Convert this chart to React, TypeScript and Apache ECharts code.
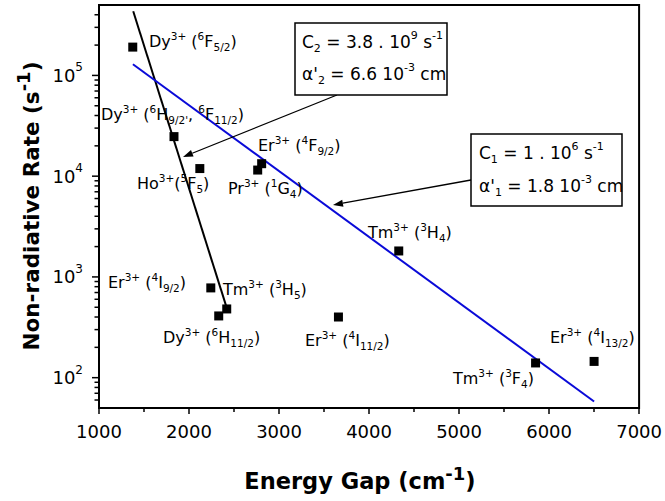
import React, { useEffect, useRef } from 'react';
import * as echarts from 'echarts';

// ---- data ----
const energyGap = [1375, 1833, 2120, 2763, 2807, 4330, 2242, 2330, 2419, 3660, 5850, 6500];
const rate = [1.91e5, 2.47e4, 1.19e4, 1.15e4, 1.33e4, 1.81e3, 778, 410, 481, 400, 140, 145];

const blackFitX = [1380, 2420];
const blackFitY = [4.33e5, 490];
const blueFitX = [1377, 6500];
const blueFitY = [1.29e5, 58];

const xTickMin = 1000;
const xTickMax = 7000;
const xTickStep = 1000;
const yMin = 50;
const yMax = 5e5;
const yMajorTicks = [100, 1000, 10000, 100000];
const yMinorTicks = [
  60, 70, 80, 90,
  200, 300, 400, 500, 600, 700, 800, 900,
  2000, 3000, 4000, 5000, 6000, 7000, 8000, 9000,
  20000, 30000, 40000, 50000, 60000, 70000, 80000, 90000,
  200000, 300000, 400000,
];

const pointLabels = [
  'Dy{sup|3+} ({sup|6}F{sub|5/2})',
  "Dy{sup|3+} ({sup|6}H{sub|9/2'}, {sup|6}F{sub|11/2})",
  'Ho{sup|3+}({sup|5}F{sub|5})',
  'Pr{sup|3+} ({sup|1}G{sub|4})',
  'Er{sup|3+} ({sup|4}F{sub|9/2})',
  'Tm{sup|3+} ({sup|3}H{sub|4})',
  'Tm{sup|3+} ({sup|3}H{sub|5})',
  'Dy{sup|3+} ({sup|6}H{sub|11/2})',
  'Er{sup|3+} ({sup|4}I{sub|9/2})',
  'Er{sup|3+} ({sup|4}I{sub|11/2})',
  'Tm{sup|3+} ({sup|3}F{sub|4})',
  'Er{sup|3+} ({sup|4}I{sub|13/2})',
];

const box2Lines = ['C{sub|2} = 3.8 . 10{sup|9} s{sup|-1}', "α'{sub|2} = 6.6 10{sup|-3} cm"];
const box1Lines = ['C{sub|1} = 1 . 10{sup|6} s{sup|-1}', "α'{sub|1} = 1.8 10{sup|-3} cm"];

const xTitle = 'Energy Gap (cm{sup|-1})';
const yTitle = 'Non-radiative Rate (s{sup|-1})';

// ---- layout (pixels) ----
const labelPos: [number, number][] = [
  [149, 41], [101, 114], [137, 183], [228, 188], [258, 145], [368, 232],
  [223, 289], [163, 337], [108, 282], [305, 340], [453, 378], [550, 337],
];

const FONT = 'DejaVu Sans';

export default function App() {
  const ref = useRef<HTMLDivElement>(null);

  useEffect(() => {
    if (!ref.current) return;
    const chart = echarts.init(ref.current, null, { renderer: 'svg' });

    const labelRich = {
      sup: { fontFamily: FONT, fontSize: 10.5, lineHeight: 11, verticalAlign: 'top', fill: '#000' },
      sub: { fontFamily: FONT, fontSize: 10.5, lineHeight: 11, verticalAlign: 'bottom', fill: '#000' },
    };
    const boxRich = {
      sup: { fontFamily: FONT, fontSize: 11, lineHeight: 12, verticalAlign: 'top', fill: '#000' },
      sub: { fontFamily: FONT, fontSize: 11, lineHeight: 12, verticalAlign: 'bottom', fill: '#000' },
    };
    const titleRich = {
      sup: { fontFamily: FONT, fontSize: 18, fontWeight: 'bold', lineHeight: 18, verticalAlign: 'top', fill: '#000' },
    };

    const textEl = (txt: string, x: number, y: number, size: number, lh: number, rich: any, z = 100) => ({
      type: 'text',
      x,
      y,
      z,
      style: {
        text: txt,
        fontFamily: FONT,
        fontSize: size,
        lineHeight: lh,
        fill: '#000',
        align: 'left',
        verticalAlign: 'middle',
        rich,
      },
    });

    const arrow = (x1: number, y1: number, x2: number, y2: number) => {
      const dx = x2 - x1;
      const dy = y2 - y1;
      const L = Math.sqrt(dx * dx + dy * dy);
      const ux = dx / L;
      const uy = dy / L;
      const hl = 10;
      const hw = 3.5;
      const bx = x2 - ux * hl;
      const by = y2 - uy * hl;
      return [
        { type: 'line', z: 90, shape: { x1, y1, x2: bx, y2: by }, style: { stroke: '#000', lineWidth: 1.3 } },
        {
          type: 'polygon',
          z: 90,
          shape: {
            points: [
              [x2, y2],
              [bx - uy * hw, by + ux * hw],
              [bx + uy * hw, by - ux * hw],
            ],
          },
          style: { fill: '#000' },
        },
      ];
    };

    const graphics: any[] = [];
    pointLabels.forEach((t, i) => {
      graphics.push(textEl(t, labelPos[i][0], labelPos[i][1], 16, 22, labelRich));
    });
    // annotation boxes
    graphics.push({ type: 'rect', z: 95, shape: { x: 295, y: 23, width: 152, height: 72 }, style: { fill: '#fff', stroke: '#000', lineWidth: 1.5 } });
    graphics.push(textEl(box2Lines[0], 302, 42, 17, 24, boxRich, 96));
    graphics.push(textEl(box2Lines[1], 302, 74, 17, 24, boxRich, 96));
    graphics.push({ type: 'rect', z: 95, shape: { x: 471, y: 134, width: 151, height: 72 }, style: { fill: '#fff', stroke: '#000', lineWidth: 1.5 } });
    graphics.push(textEl(box1Lines[0], 479, 153, 17, 24, boxRich, 96));
    graphics.push(textEl(box1Lines[1], 479, 186, 17, 24, boxRich, 96));
    graphics.push(...arrow(337, 95, 183, 157));
    graphics.push(...arrow(471, 180, 333, 205));
    // axis titles
    graphics.push({
      type: 'text',
      x: 360,
      y: 481,
      style: {
        text: xTitle,
        fontFamily: FONT,
        fontSize: 22.5,
        fontWeight: 'bold',
        lineHeight: 34,
        fill: '#000',
        align: 'center',
        verticalAlign: 'middle',
        rich: titleRich,
      },
    });
    graphics.push({
      type: 'text',
      x: 31,
      y: 206,
      rotation: Math.PI / 2,
      style: {
        text: yTitle,
        fontFamily: FONT,
        fontSize: 21.5,
        fontWeight: 'bold',
        lineHeight: 34,
        fill: '#000',
        align: 'center',
        verticalAlign: 'middle',
        rich: titleRich,
      },
    });

    chart.setOption({
      animation: false,
      backgroundColor: '#fff',
      grid: {
        left: 99,
        right: 25,
        top: 5,
        bottom: 93,
        show: true,
        borderColor: '#000',
        borderWidth: 2,
        backgroundColor: 'transparent',
      },
      xAxis: {
        type: 'value',
        min: xTickMin,
        max: xTickMax,
        interval: xTickStep,
        axisLine: { show: true, onZero: false, lineStyle: { color: '#000', width: 2 } },
        axisTick: { show: true, length: 6, lineStyle: { color: '#000', width: 1.5 } },
        minorTick: { show: true, splitNumber: 2, length: 4, lineStyle: { color: '#000', width: 1.5 } },
        splitLine: { show: false },
        axisLabel: {
          fontFamily: FONT,
          fontSize: 18,
          color: '#000',
          margin: 14,
          formatter: (v: number) => String(v),
        },
      },
      yAxis: {
        type: 'log',
        logBase: 10,
        min: yMin,
        max: yMax,
        axisLine: { show: true, onZero: false, lineStyle: { color: '#000', width: 2 } },
        axisTick: { show: false },
        minorTick: { show: false },
        splitLine: { show: false },
        axisLabel: {
          margin: 16,
          formatter: (v: number) => {
            const e = Math.round(Math.log10(v));
            if (Math.abs(Math.pow(10, e) - v) / v > 1e-6) return '';
            return `{b|10}{s|${e}}`;
          },
          rich: {
            b: { fontFamily: FONT, fontSize: 18, lineHeight: 28, color: '#000' },
            s: { fontFamily: FONT, fontSize: 12, lineHeight: 14, verticalAlign: 'top', color: '#000' },
          },
        },
      },
      series: [
        {
          type: 'line',
          data: blackFitX.map((x, i) => [x, blackFitY[i]]),
          showSymbol: false,
          symbol: 'none',
          lineStyle: { color: '#000', width: 2 },
          z: 2,
        },
        {
          type: 'line',
          data: blueFitX.map((x, i) => [x, blueFitY[i]]),
          showSymbol: false,
          symbol: 'none',
          lineStyle: { color: '#0a0ad8', width: 2 },
          z: 2,
        },
        {
          type: 'scatter',
          data: energyGap.map((x, i) => [x, rate[i]]),
          symbol: 'rect',
          symbolSize: 9,
          itemStyle: { color: '#000', opacity: 1 },
          z: 5,
        },
      ],
      graphic: { elements: graphics },
    });

    // y-axis ticks (major + log minor), positioned through the axis scale
    const tickEls: any[] = [];
    const addTick = (v: number, len: number) => {
      const p = chart.convertToPixel({ gridIndex: 0 }, [xTickMin, v]) as number[];
      if (!p || !isFinite(p[0]) || !isFinite(p[1])) return;
      tickEls.push({
        type: 'line',
        z: 50,
        shape: { x1: p[0] - len - 1, y1: p[1], x2: p[0], y2: p[1] },
        style: { stroke: '#000', lineWidth: 1.5 },
      });
    };
    yMajorTicks.forEach((v) => addTick(v, 6));
    yMinorTicks.forEach((v) => addTick(v, 3.5));
    chart.setOption({ graphic: { elements: [...graphics, ...tickEls] } });

    return () => chart.dispose();
  }, []);

  return (
    <div
      ref={ref}
      style={{ position: 'fixed', left: 0, top: 0, width: 665, height: 501, background: '#fff' }}
    />
  );
}
